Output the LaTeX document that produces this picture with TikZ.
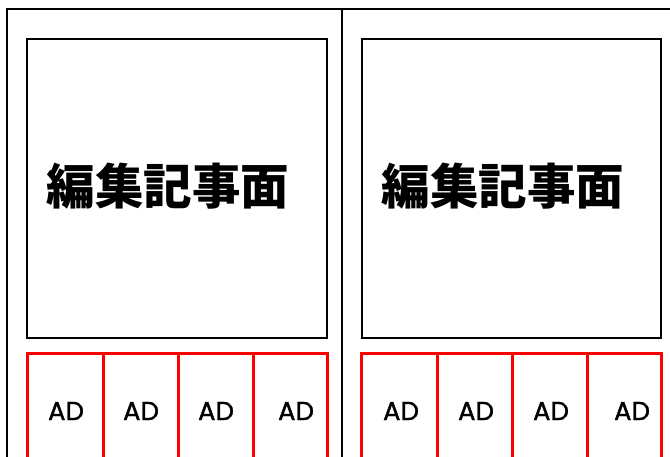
\documentclass[tikz,border=0pt]{standalone}
\usepackage{fontspec}
\newfontfamily\cjk{Noto Sans CJK JP}
\newfontfamily\adfont{Poppins}[FakeBold=1.2]
\begin{document}
\begin{tikzpicture}[x=1pt,y=-1pt,
  frame/.style={draw=black,line width=2pt},
  editbox/.style={draw=black,line width=1.6pt},
  adcell/.style={draw=red,line width=3pt},
  adlabel/.style={font=\adfont\fontsize{26}{30}\selectfont,inner sep=0pt},
  editlabel/.style={font=\cjk\bfseries\fontsize{48.5}{54}\selectfont,inner sep=0pt}]
\useasboundingbox (0,0) rectangle (670,457);
% outer frame
\coordinate (tl) at (7,9);
\coordinate (tr) at (671,9);
\coordinate (bl) at (7,458);
\coordinate (mt) at (342,9);
\coordinate (mb) at (342,458);
\draw[frame] (bl) -- (tl) -- (tr);
\draw[frame] (mt) -- (mb);
% editorial boxes
\draw[editbox] (27,39) rectangle (327,338);
\draw[editbox] (362,39) rectangle (661,338);
\node[editlabel] (t1) at (168,186) {編集記事面};
\node[editlabel] (t2) at (503,186) {編集記事面};
% ad cells
\draw[adcell] (27,460) -- (27,354) -- (327,354) -- (327,460);
\draw[adcell] (103,354) -- (103,460);
\draw[adcell] (178,354) -- (178,460);
\draw[adcell] (253,354) -- (253,460);
\draw[adcell] (361,460) -- (361,354) -- (661,354) -- (661,460);
\draw[adcell] (437,354) -- (437,460);
\draw[adcell] (512,354) -- (512,460);
\draw[adcell] (587,354) -- (587,460);
\node[adlabel] (a1) at (66,411) {AD};
\node[adlabel] (a2) at (141,411) {AD};
\node[adlabel] (a3) at (216,411) {AD};
\node[adlabel] (a4) at (296,411) {AD};
\node[adlabel] (a5) at (401,411) {AD};
\node[adlabel] (a6) at (476,411) {AD};
\node[adlabel] (a7) at (551,411) {AD};
\node[adlabel] (a8) at (632,411) {AD};
\end{tikzpicture}
\end{document}
